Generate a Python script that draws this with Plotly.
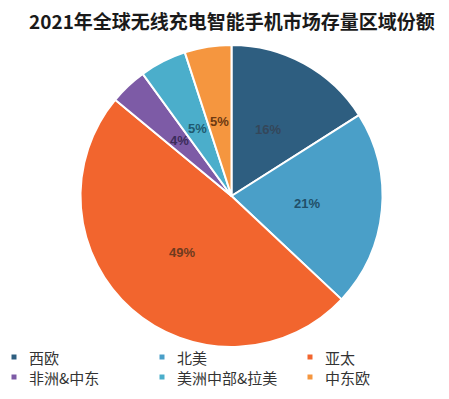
import math
import plotly.graph_objects as go

title = "2021年全球无线充电智能手机市场存量区域份额"
regions = ["西欧", "北美", "亚太", "非洲&中东", "美洲中部&拉美", "中东欧"]
shares = [16, 21, 49, 4, 5, 5]
colors = ["#2E5E80", "#4A9FC8", "#F2652E", "#7D5BA6", "#4BAECB", "#F5963F"]
label_colors = ["#34475A", "#214F69", "#6E3A1E", "#3B2C5A", "#1F5A70", "#6E3A12"]

W, H = 449, 399
cx, cy, R = 231.5, 196.0, 151.0

fig = go.Figure()
fig.add_trace(go.Pie(
    labels=regions, values=shares, sort=False, direction="clockwise", rotation=0,
    marker=dict(colors=colors, line=dict(color="white", width=2)),
    textinfo="none", hoverinfo="label+percent", showlegend=False,
    domain=dict(x=[(cx - R) / W, (cx + R) / W], y=[1 - (cy + R) / H, 1 - (cy - R) / H]),
))

annotations = []
total = sum(shares)
cum = 0
for v, c in zip(shares, label_colors):
    mid = (cum + v / 2) / total
    cum += v
    th = 2 * math.pi * mid
    px = cx + 0.5 * R * math.sin(th)
    py = cy - 0.5 * R * math.cos(th)
    annotations.append(dict(
        x=px / W, y=1 - py / H, xref="paper", yref="paper", showarrow=False,
        xanchor="center", yanchor="middle",
        text="<b>%d%%</b>" % round(100 * v / total),
        font=dict(family="Liberation Sans, Arial", size=13, color=c),
    ))

annotations.append(dict(
    x=232 / W, y=1 - 21 / H, xref="paper", yref="paper", showarrow=False,
    text="<b>" + title + "</b>", xanchor="center", yanchor="middle",
    font=dict(family="Noto Sans CJK SC", size=19, color="#1a1a1a"),
))

shapes = []
col_x = [14, 162, 310]
row_y = [357, 377]
for i, (name, c) in enumerate(zip(regions, colors)):
    mx = col_x[i % 3]
    my = row_y[i // 3]
    shapes.append(dict(type="rect", xref="paper", yref="paper",
                       x0=(mx - 2.5) / W, x1=(mx + 2.5) / W,
                       y0=1 - (my + 2.5) / H, y1=1 - (my - 2.5) / H,
                       fillcolor=c, line=dict(width=0)))
    annotations.append(dict(
        x=(mx + 13) / W, y=1 - my / H, xref="paper", yref="paper", showarrow=False,
        text=name, xanchor="left", yanchor="middle",
        font=dict(family="Noto Sans CJK SC", size=15, color="#333333"),
    ))

fig.update_layout(
    width=W, height=H, margin=dict(l=0, r=0, t=0, b=0),
    paper_bgcolor="white", plot_bgcolor="white",
    annotations=annotations, shapes=shapes,
)

fig.write_html("out.html", config={"displayModeBar": False})

with open("out.html", "r", encoding="utf-8") as f:
    html = f.read()
html = html.replace("<body>", '<body style="margin:0;padding:0;overflow:hidden">', 1)
with open("out.html", "w", encoding="utf-8") as f:
    f.write(html)
